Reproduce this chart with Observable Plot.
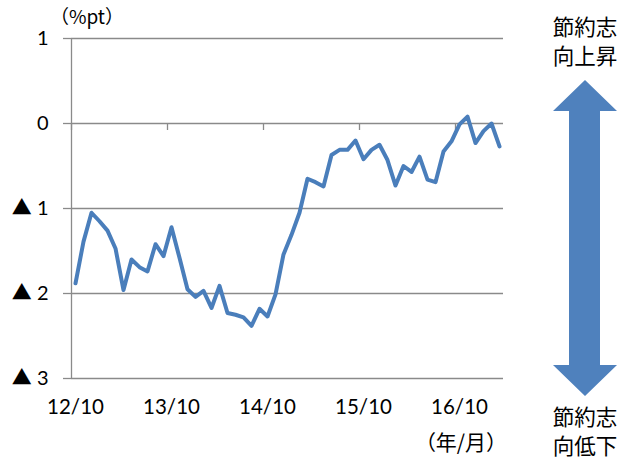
<!DOCTYPE html>
<html>
<head>
<meta charset="utf-8">
<script src="https://cdn.jsdelivr.net/npm/d3@7"></script>
<script src="https://cdn.jsdelivr.net/npm/@observablehq/plot@0.6"></script>
<style>
  html, body { margin: 0; padding: 0; background: #ffffff; }
  #chart { width: 625px; height: 460px; }
  svg text { font-family: "Lato", "Noto Sans CJK JP", sans-serif; }
</style>
</head>
<body>
<div id="chart"></div>
<script>
// Monthly index, 2012/10 through 2017/03 (percentage points)
const values = [
  -1.88, -1.39, -1.05, -1.15, -1.26, -1.47, -1.96, -1.60, -1.69, -1.74, -1.42, -1.56,
  -1.22, -1.58, -1.95, -2.04, -1.97, -2.17, -1.91, -2.23, -2.25, -2.28, -2.38, -2.18,
  -2.27, -2.01, -1.54, -1.31, -1.05, -0.65, -0.69, -0.74, -0.37, -0.31, -0.31, -0.20,
  -0.42, -0.31, -0.25, -0.43, -0.73, -0.50, -0.57, -0.39, -0.66, -0.69, -0.33, -0.21,
  -0.01, 0.08, -0.23, -0.09, 0.00, -0.27
];

// Category axis labels (one every 12 months)
const xTickIndex = [0, 12, 24, 36, 48];
const xTickLabels = ["12/10", "13/10", "14/10", "15/10", "16/10"];

// Value axis: negatives are written with a ▲ sign
const yTickValues = [1, 0, -1, -2, -3];
const yTickLabels = ["1", "0", "▲ 1", "▲ 2", "▲ 3"];

const unitLabel = "（%pt）";
const periodLabel = "（年/月）";
const upLabel = ["節約志", "向上昇"];
const downLabel = ["節約志", "向低下"];

const axisColor = "#8a8a8a";
const lineColor = "#4a7ebb";
const arrowColor = "#4f81bd";

const n = values.length;
const points = values.map((v, i) => ({i, v}));
const boundaries = xTickIndex.map(i => i - 0.5);

const chart = Plot.plot({
  width: 625,
  height: 460,
  marginLeft: 71,
  marginRight: 122,
  marginTop: 38,
  marginBottom: 82,
  style: {background: "#ffffff", overflow: "visible"},
  x: {domain: [-0.5, n - 0.5]},
  y: {domain: [-3, 1]},
  marks: [
    Plot.gridY(yTickValues, {stroke: axisColor, strokeOpacity: 1, strokeWidth: 1.3}),
    Plot.ruleX([-0.5], {y1: -3, y2: 1, stroke: axisColor, strokeWidth: 1.3}),
    // tick marks hanging below the zero line at each year boundary
    Plot.ruleX(boundaries, {y1: 0, y2: 0, insetBottom: -7, stroke: axisColor, strokeWidth: 1.3}),
    Plot.axisY(yTickValues, {
      tickSize: 8, tickPadding: 15, stroke: axisColor, strokeWidth: 1.3,
      tickFormat: d => yTickLabels[yTickValues.indexOf(d)],
      fontSize: 20, fill: "#000000", label: null
    }),
    Plot.axisX(xTickIndex, {
      tickSize: 0, tickPadding: 21,
      tickFormat: d => xTickLabels[xTickIndex.indexOf(d)],
      fontSize: 20.5, fill: "#000000", label: null
    }),
    Plot.line(points, {x: "i", y: "v", stroke: lineColor, strokeWidth: 4, strokeLinejoin: "round", strokeLinecap: "round"})
  ]
});

document.getElementById("chart").appendChild(chart);

// Annotations around the plot: unit, period and the two-way arrow with its captions
const svg = d3.select(chart);
const cjk = "'Noto Sans CJK JP', sans-serif";

svg.append("text")
  .attr("x", 87).attr("y", 17).attr("dy", "0.35em")
  .attr("text-anchor", "middle")
  .style("font-family", cjk).style("font-size", "19px")
  .text(unitLabel);

svg.append("text")
  .attr("x", 461).attr("y", 443).attr("dy", "0.35em")
  .attr("text-anchor", "middle")
  .style("font-family", cjk).style("font-size", "21px")
  .text(periodLabel);

const cx = 585;
const arrow = [
  [cx, 80], [cx + 32, 111], [cx + 15, 111], [cx + 15, 365], [cx + 32, 365],
  [cx, 396], [cx - 32, 365], [cx - 16, 365], [cx - 16, 111], [cx - 32, 111]
];
svg.append("polygon")
  .attr("points", arrow.map(p => p.join(",")).join(" "))
  .attr("fill", arrowColor);

upLabel.forEach((t, k) => {
  svg.append("text")
    .attr("x", cx).attr("y", 27 + k * 29).attr("dy", "0.35em")
    .attr("text-anchor", "middle")
    .style("font-family", cjk).style("font-size", "21.5px")
    .text(t);
});
downLabel.forEach((t, k) => {
  svg.append("text")
    .attr("x", cx).attr("y", 417 + k * 29).attr("dy", "0.35em")
    .attr("text-anchor", "middle")
    .style("font-family", cjk).style("font-size", "21.5px")
    .text(t);
});
</script>
</body>
</html>
